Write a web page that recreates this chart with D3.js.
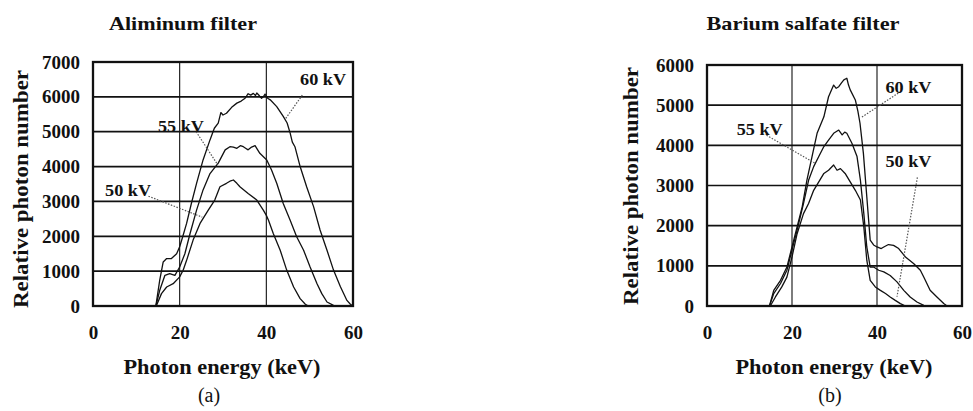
<!DOCTYPE html>
<html>
<head>
<meta charset="utf-8">
<script src="https://cdn.jsdelivr.net/npm/d3@7"></script>
<style>
  html, body { margin: 0; padding: 0; background: #fff; }
  svg { display: block; }
  text { font-family: "Liberation Serif", "Times New Roman", serif; fill: #111; }
</style>
</head>
<body>
<svg id="chart" width="973" height="411"></svg>
<script>
// ---------- DATA ----------
const xTicks = [0, 20, 40, 60];
const yTicksA = [0, 1000, 2000, 3000, 4000, 5000, 6000, 7000];
const yTicksB = [0, 1000, 2000, 3000, 4000, 5000, 6000];

// Aluminum filter spectra: [energy keV, relative photon number]
const al60 = [[14.5,0],[15.4,740],[16.2,1265],[17.0,1360],[18.1,1360],[19.3,1500],[20.0,1700],[20.7,1985],[21.6,2370],[22.7,2940],[23.9,3520],[25.4,4190],[27.0,4765],[28.0,5100],[28.9,5245],[29.5,5550],[30.0,5480],[30.8,5530],[32.0,5700],[33.2,5820],[34.2,5880],[35.1,5960],[35.8,6090],[36.4,6050],[37.0,6100],[37.5,6040],[37.8,6110],[38.4,6030],[38.9,5960],[39.3,6000],[39.7,6080],[40.3,5960],[40.9,5915],[42.4,5720],[43.9,5440],[44.8,5250],[45.5,4960],[46.0,4700],[46.6,4570],[47.8,4000],[49.3,3420],[50.9,2850],[52.4,2180],[54.0,1600],[55.5,1030],[57.1,550],[58.6,160],[59.4,50],[60,0]];
const al55 = [[14.5,0],[15.4,450],[16.6,880],[17.7,930],[18.9,880],[20.0,1120],[21.2,1500],[22.4,2080],[23.9,2750],[25.4,3330],[27.0,3800],[28.9,4100],[30.5,4480],[31.6,4570],[32.4,4560],[33.2,4525],[34.0,4600],[34.7,4570],[35.3,4520],[35.8,4480],[36.6,4560],[37.4,4600],[38.0,4480],[38.5,4380],[40.1,4190],[41.2,3900],[42.4,3520],[43.9,2940],[45.5,2460],[47.0,1985],[48.6,1600],[50.1,1120],[51.7,640],[52.8,355],[54.0,115],[55.5,20],[56.3,0]];
const al50 = [[14.6,0],[15.8,355],[17.0,545],[18.5,640],[20.0,835],[20.8,1025],[21.6,1310],[23.1,1890],[24.7,2370],[26.6,2750],[28.1,3040],[29.3,3420],[30.8,3520],[31.6,3580],[32.4,3615],[33.2,3520],[33.9,3420],[35.8,3230],[37.8,3040],[39.3,2750],[40.0,2600],[40.5,2460],[41.6,2080],[43.2,1600],[44.7,1030],[46.3,545],[47.8,210],[49.0,50],[49.7,0]];

// Barium sulfate filter spectra
const ba60 = [[14.7,0],[15.7,390],[17.3,640],[18.8,970],[20.0,1470],[21.2,1970],[22.4,2470],[23.5,3130],[24.7,3715],[25.9,4300],[27.5,4710],[28.6,5210],[29.8,5500],[30.4,5420],[31.0,5460],[31.6,5550],[32.2,5630],[32.9,5670],[33.3,5500],[33.7,5380],[34.9,5130],[35.5,4850],[36.0,4550],[36.8,3800],[37.6,2720],[38.4,1640],[39.2,1520],[40.0,1470],[41.0,1430],[41.6,1470],[42.7,1530],[43.9,1510],[45.1,1430],[46.7,1220],[48.6,1060],[50.2,890],[51.0,720],[52.5,390],[54.1,225],[55.7,60],[56.5,0]];
const ba55 = [[14.7,0],[15.7,310],[17.3,560],[18.8,890],[20.0,1390],[21.2,1890],[22.7,2550],[23.9,3130],[25.1,3470],[26.3,3720],[27.5,3970],[28.6,4130],[29.8,4300],[31.0,4380],[31.8,4260],[32.4,4330],[32.9,4300],[34.1,4050],[35.3,3720],[36.1,3130],[36.9,2300],[37.6,1470],[38.4,970],[39.2,970],[40.4,890],[41.6,850],[43.1,760],[44.7,600],[46.3,390],[47.8,225],[49.4,100],[51.0,15],[51.4,0]];
const ba50 = [[14.9,0],[16.1,225],[17.6,475],[18.8,720],[20.0,1220],[21.2,1800],[22.7,2300],[23.9,2550],[25.1,2880],[26.3,3090],[27.5,3300],[28.6,3380],[29.8,3510],[30.6,3380],[31.4,3420],[32.5,3300],[33.7,3090],[34.9,2880],[36.1,2640],[36.9,1970],[37.6,1140],[38.4,640],[39.6,475],[40.8,390],[42.0,310],[43.1,225],[44.3,140],[45.5,60],[46.7,0]];

const labelsA = ["60 kV", "55 kV", "50 kV"];
const labelsB = ["60 kV", "55 kV", "50 kV"];

// ---------- DRAW ----------
const svg = d3.select("#chart");

function panel(cfg) {
  const x = d3.scaleLinear().domain([0, 60]).range([cfg.x0, cfg.x1]);
  const y = d3.scaleLinear().domain([0, cfg.ymax]).range([cfg.y0, cfg.y1]);
  const g = svg.append("g");

  // horizontal grid
  g.selectAll(".hg").data(cfg.yTicks).join("line")
    .attr("x1", x(0)).attr("x2", x(60))
    .attr("y1", d => y(d)).attr("y2", d => y(d))
    .attr("stroke", "#111").attr("stroke-width", 1.7);
  // vertical grid
  g.selectAll(".vg").data([20, 40]).join("line")
    .attr("x1", d => x(d)).attr("x2", d => x(d))
    .attr("y1", y(0)).attr("y2", y(cfg.ymax))
    .attr("stroke", "#111").attr("stroke-width", 1.1);
  // border
  g.append("rect")
    .attr("x", x(0)).attr("y", y(cfg.ymax))
    .attr("width", x(60) - x(0)).attr("height", y(0) - y(cfg.ymax))
    .attr("fill", "none").attr("stroke", "#111").attr("stroke-width", 2.3);

  // axes (text only)
  const ya = g.append("g").attr("transform", `translate(${x(0)},0)`)
    .call(d3.axisLeft(y).tickValues(cfg.yTicks).tickFormat(d3.format("d")).tickSize(0).tickPadding(13));
  ya.select(".domain").remove();
  ya.selectAll("text").attr("font-size", 19).attr("font-weight", "bold")
    .attr("font-family", "Liberation Serif").attr("fill", "#111");

  const xa = g.append("g").attr("transform", `translate(0,${y(0)})`)
    .call(d3.axisBottom(x).tickValues(xTicks).tickSize(0).tickPadding(20));
  xa.select(".domain").remove();
  xa.selectAll("text").attr("font-size", 19).attr("font-weight", "bold")
    .attr("font-family", "Liberation Serif").attr("fill", "#111");

  // curves
  const line = d3.line().x(d => x(d[0])).y(d => y(d[1]));
  cfg.series.forEach(s => {
    g.append("path").datum(s).attr("d", line)
      .attr("fill", "none").attr("stroke", "#111").attr("stroke-width", 1.3)
      .attr("stroke-linejoin", "round");
  });

  // series labels and dotted leaders
  cfg.labels.forEach((lb, i) => {
    const a = cfg.anno[i];
    g.append("line")
      .attr("x1", x(a.lx1)).attr("y1", y(a.ly1))
      .attr("x2", x(a.lx2)).attr("y2", y(a.ly2))
      .attr("stroke", "#555").attr("stroke-width", 1.2).attr("stroke-dasharray", "1.5,1.5");
    g.append("text").attr("x", x(a.tx)).attr("y", y(a.ty))
      .attr("font-size", 17).attr("font-weight", "bold")
      .attr("textLength", 46).attr("lengthAdjust", "spacingAndGlyphs").text(lb);
  });

  // title
  g.append("text").attr("x", cfg.titleX).attr("y", 30).attr("text-anchor", "middle")
    .attr("font-size", 19).attr("font-weight", "bold")
    .attr("textLength", cfg.titleW).attr("lengthAdjust", "spacingAndGlyphs").text(cfg.title);
  // y label
  g.append("text").attr("transform", `translate(${cfg.ylabX},${cfg.ylabY}) rotate(-90)`)
    .attr("text-anchor", "middle").attr("font-size", 21).attr("font-weight", "bold")
    .attr("textLength", 238).attr("lengthAdjust", "spacingAndGlyphs")
    .text("Relative photon number");
  // x label
  g.append("text").attr("x", cfg.xlabX).attr("y", 374).attr("text-anchor", "middle")
    .attr("font-size", 22).attr("font-weight", "bold")
    .attr("textLength", 197).attr("lengthAdjust", "spacingAndGlyphs")
    .text("Photon energy (keV)");
  g.append("text").attr("x", cfg.subX).attr("y", 402).attr("text-anchor", "middle")
    .attr("font-size", 20).text(cfg.sub);
}

panel({
  x0: 93, x1: 353, y0: 306, y1: 62, ymax: 7000, yTicks: yTicksA,
  series: [al60, al55, al50], labels: labelsA,
  anno: [
    {tx: 47.8, ty: 6350, lx1: 48.3, ly1: 6050, lx2: 44.3, ly2: 5350},
    {tx: 15.0, ty: 5000, lx1: 23.8, ly1: 5000, lx2: 28.8, ly2: 4050},
    {tx: 2.8, ty: 3150, lx1: 12.8, ly1: 3150, lx2: 25.2, ly2: 2550}
  ],
  title: "Aliminum filter", titleX: 183, titleW: 148,
  ylabX: 28, ylabY: 189, xlabX: 222, subX: 209, sub: "(a)"
});

panel({
  x0: 707, x1: 962, y0: 306, y1: 65, ymax: 6000, yTicks: yTicksB,
  series: [ba60, ba55, ba50], labels: labelsB,
  anno: [
    {tx: 42.0, ty: 5300, lx1: 45.0, ly1: 5300, lx2: 36.4, ly2: 4700},
    {tx: 7.0, ty: 4250, lx1: 14.0, ly1: 4250, lx2: 25.5, ly2: 3550},
    {tx: 42.0, ty: 3450, lx1: 49.5, ly1: 3200, lx2: 44.7, ly2: 230}
  ],
  title: "Barium salfate filter", titleX: 803, titleW: 193,
  ylabX: 638, ylabY: 186, xlabX: 834, subX: 830, sub: "(b)"
});
</script>
</body>
</html>
